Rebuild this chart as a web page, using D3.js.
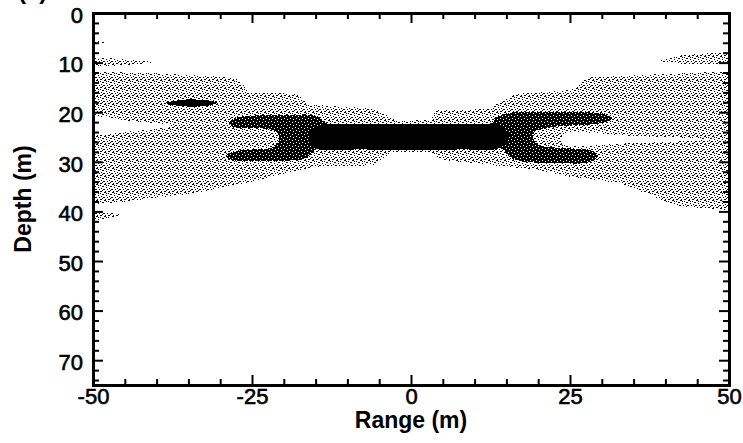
<!DOCTYPE html>
<html>
<head>
<meta charset="utf-8">
<script src="https://cdn.jsdelivr.net/npm/d3@7"></script>
<style>
  body { margin: 0; background: #fff; }
  svg { display: block; }
  text { font-family: "Liberation Sans", Arial, sans-serif; }
</style>
</head>
<body>
<div id="chart"></div>
<script>
const W = 743, H = 443;

// tick values
const rangeMajor = [-50, -25, 0, 25, 50];
const rangeMinor = [-45, -40, -35, -30, -20, -15, -10, -5, 5, 10, 15, 20, 30, 35, 40, 45];
const depthMajor = [0, 10, 20, 30, 40, 50, 60, 70];
const depthMinor = [2, 4, 6, 8, 12, 14, 16, 18, 22, 24, 26, 28, 32, 34, 36, 38, 42, 44, 46, 48, 52, 54, 56, 58, 62, 64, 66, 68, 72, 74];

// regions as [range (m), depth (m)] outlines
const lightBody = [
  [-50, 11.8], [-40, 12.2], [-30, 12.8], [-27, 13.5], [-25.5, 16], [-18, 16.3], [-16, 18.5], [-6, 19.2],
  [-2, 21.8], [3, 21.5], [4, 19.6], [12, 19.4], [16.5, 16.3], [25, 15.5], [28, 13], [40, 12.3], [50, 11.8],
  [50, 39.7], [42, 39], [33, 34.3], [25, 33], [20, 31.6], [10, 30.3], [5, 29.6], [3, 28], [-3, 28],
  [-6, 30.7], [-15, 31], [-21, 32.7], [-25, 34], [-34, 36.3], [-45, 38], [-50, 38.7]
];
const streakLeft = [[-50, 9], [-45, 9.3], [-40, 9.9], [-45, 10.5], [-50, 10.8]];
const speckLeft = [[-50, 5.6], [-47, 6], [-50, 6.5]];
const strayLeft = [[-50, 40], [-45, 40.6], [-50, 42]];
const streakRight = [[38.4, 9.6], [42, 8.6], [50, 7.8], [50, 10.2], [44, 10.4]];

const gapLeft = [[-50, 21.2], [-44, 21.8], [-37.5, 22.8], [-44, 23.8], [-50, 24.2]];
const gapRight = [[24, 24.5], [35, 24.8], [47, 25.5], [35, 26.2], [24, 26.3]];

const darkBody = [
  [-28.6, 22.1], [-27.5, 21.1], [-25, 20.7], [-20, 20.6], [-15, 20.7], [-13, 22.4], [0, 22.4], [12.5, 22.4],
  [13.5, 21], [16, 20.1], [25, 20], [30, 20.3], [31.6, 21.2], [30, 22.2], [25, 22.7], [21, 23.2],
  [19.3, 24.2], [19.2, 25.2], [19.6, 26.2], [21, 26.9], [25, 27.3], [28.5, 27.8], [29.4, 28.8], [28, 30.1],
  [24, 30.3], [17, 29.8], [15.5, 29], [14.3, 27.3], [0, 27.4], [-14.8, 27.4], [-16.5, 29.2], [-20, 29.8],
  [-25, 29.9], [-28.2, 29.6], [-29.2, 28.8], [-28, 28], [-25, 27.5], [-22, 27.2], [-21, 26.3], [-20.7, 25.2],
  [-21, 24.1], [-22, 23.5], [-25, 23.2], [-28, 23]
];
const darkBar = [
  [-15, 22.9], [-8, 22.4], [0, 22.3], [8, 22.4], [14, 22.8], [15.5, 25], [14, 27.2], [8, 27.5],
  [0, 27.6], [-8, 27.5], [-15, 27.2], [-16, 25]
];
const darkBlob = [[-38.5, 18.2], [-36, 17.5], [-32, 17.6], [-30.5, 18.1], [-32, 18.7], [-36, 18.8]];

const x = d3.scaleLinear().domain([-50, 50]).range([93, 729]);
const y = d3.scaleLinear().domain([0, 75]).range([13, 385]);

const svg = d3.select("#chart").append("svg").attr("width", W).attr("height", H);
const defs = svg.append("defs");

defs.append("clipPath").attr("id", "plot")
  .append("rect")
  .attr("x", x(-50)).attr("y", y(0))
  .attr("width", x(50) - x(-50)).attr("height", y(75) - y(0));

// stipple textures
const lite = defs.append("pattern").attr("id", "lite")
  .attr("width", 8).attr("height", 8).attr("patternUnits", "userSpaceOnUse");
[[0, 0], [1, 0], [4, 1], [2, 1], [6, 2], [7, 2], [2, 3], [5, 4], [0, 5], [3, 5], [7, 5], [6, 6], [1, 7], [4, 7], [5, 7]]
  .forEach(([a, b]) => lite.append("rect").attr("x", a).attr("y", b).attr("width", 1).attr("height", 1).attr("fill", "#000"));

const dark = defs.append("pattern").attr("id", "dark")
  .attr("width", 6).attr("height", 6).attr("patternUnits", "userSpaceOnUse");
dark.append("rect").attr("width", 6).attr("height", 6).attr("fill", "#000");
[[1, 1], [4, 2], [2, 4], [5, 5]]
  .forEach(([a, b]) => dark.append("rect").attr("x", a).attr("y", b).attr("width", 1).attr("height", 1).attr("fill", "#fff"));

const straight = d3.line().x(d => x(d[0])).y(d => y(d[1])).curve(d3.curveLinearClosed);
const smooth = d3.line().x(d => x(d[0])).y(d => y(d[1])).curve(d3.curveCatmullRomClosed.alpha(0.5));

const plot = svg.append("g").attr("clip-path", "url(#plot)").attr("shape-rendering", "crispEdges");

[lightBody, streakLeft, speckLeft, strayLeft, streakRight].forEach(p =>
  plot.append("path").attr("d", straight(p)).attr("fill", "url(#lite)"));
[gapLeft, gapRight].forEach(p =>
  plot.append("path").attr("d", smooth(p)).attr("fill", "#fff"));
plot.append("path").attr("d", smooth(darkBody)).attr("fill", "url(#dark)");
[darkBar, darkBlob].forEach(p =>
  plot.append("path").attr("d", smooth(p)).attr("fill", "#000"));

// axes, ticks pointing inward
function styleAxis(g) {
  g.select(".domain").attr("stroke-width", 2.8).attr("stroke-linecap", "square");
  g.selectAll(".tick line").attr("stroke-width", 2);
  g.selectAll("text").attr("font-family", "Liberation Sans, Arial, sans-serif")
    .attr("font-size", 22).attr("fill", "#000")
    .attr("stroke", "#000").attr("stroke-width", 0.6);
}
const fmt = d => String(d);

const axBottom = svg.append("g").attr("transform", `translate(0,${y(75)})`);
axBottom.append("g").call(d3.axisBottom(x).tickValues(rangeMinor).tickSize(-6).tickSizeOuter(0).tickFormat(""));
axBottom.append("g").call(d3.axisBottom(x).tickValues(rangeMajor).tickSize(-10).tickSizeOuter(0).tickPadding(3).tickFormat(fmt));
axBottom.selectAll("g").call(styleAxis);

const axTop = svg.append("g").attr("transform", `translate(0,${y(0)})`);
axTop.append("g").call(d3.axisTop(x).tickValues(rangeMinor).tickSize(-6).tickSizeOuter(0).tickFormat(""));
axTop.append("g").call(d3.axisTop(x).tickValues(rangeMajor).tickSize(-10).tickSizeOuter(0).tickFormat(""));
axTop.selectAll("g").call(styleAxis);

const axLeft = svg.append("g").attr("transform", `translate(${x(-50)},0)`);
axLeft.append("g").call(d3.axisLeft(y).tickValues(depthMinor).tickSize(-6).tickSizeOuter(0).tickFormat(""));
axLeft.append("g").call(d3.axisLeft(y).tickValues(depthMajor).tickSize(-10).tickSizeOuter(0).tickPadding(10).tickFormat(fmt));
axLeft.selectAll("g").call(styleAxis);
axLeft.selectAll("text").attr("dy", "0.42em");

const axRight = svg.append("g").attr("transform", `translate(${x(50)},0)`);
axRight.append("g").call(d3.axisRight(y).tickValues(depthMinor).tickSize(-6).tickSizeOuter(0).tickFormat(""));
axRight.append("g").call(d3.axisRight(y).tickValues(depthMajor).tickSize(-10).tickSizeOuter(0).tickFormat(""));
axRight.selectAll("g").call(styleAxis);

svg.append("text")
  .attr("x", (x(-50) + x(50)) / 2).attr("y", 428)
  .attr("text-anchor", "middle").attr("font-size", 23).attr("font-weight", "bold")
  .text("Range (m)");

svg.append("text")
  .attr("transform", `translate(31,${(y(0) + y(75)) / 2}) rotate(-90)`)
  .attr("text-anchor", "middle").attr("font-size", 23).attr("font-weight", "bold")
  .text("Depth (m)");

svg.append("text")
  .attr("x", 18).attr("y", -1)
  .attr("font-size", 24).attr("font-weight", "bold")
  .text("(a)");
</script>
</body>
</html>
